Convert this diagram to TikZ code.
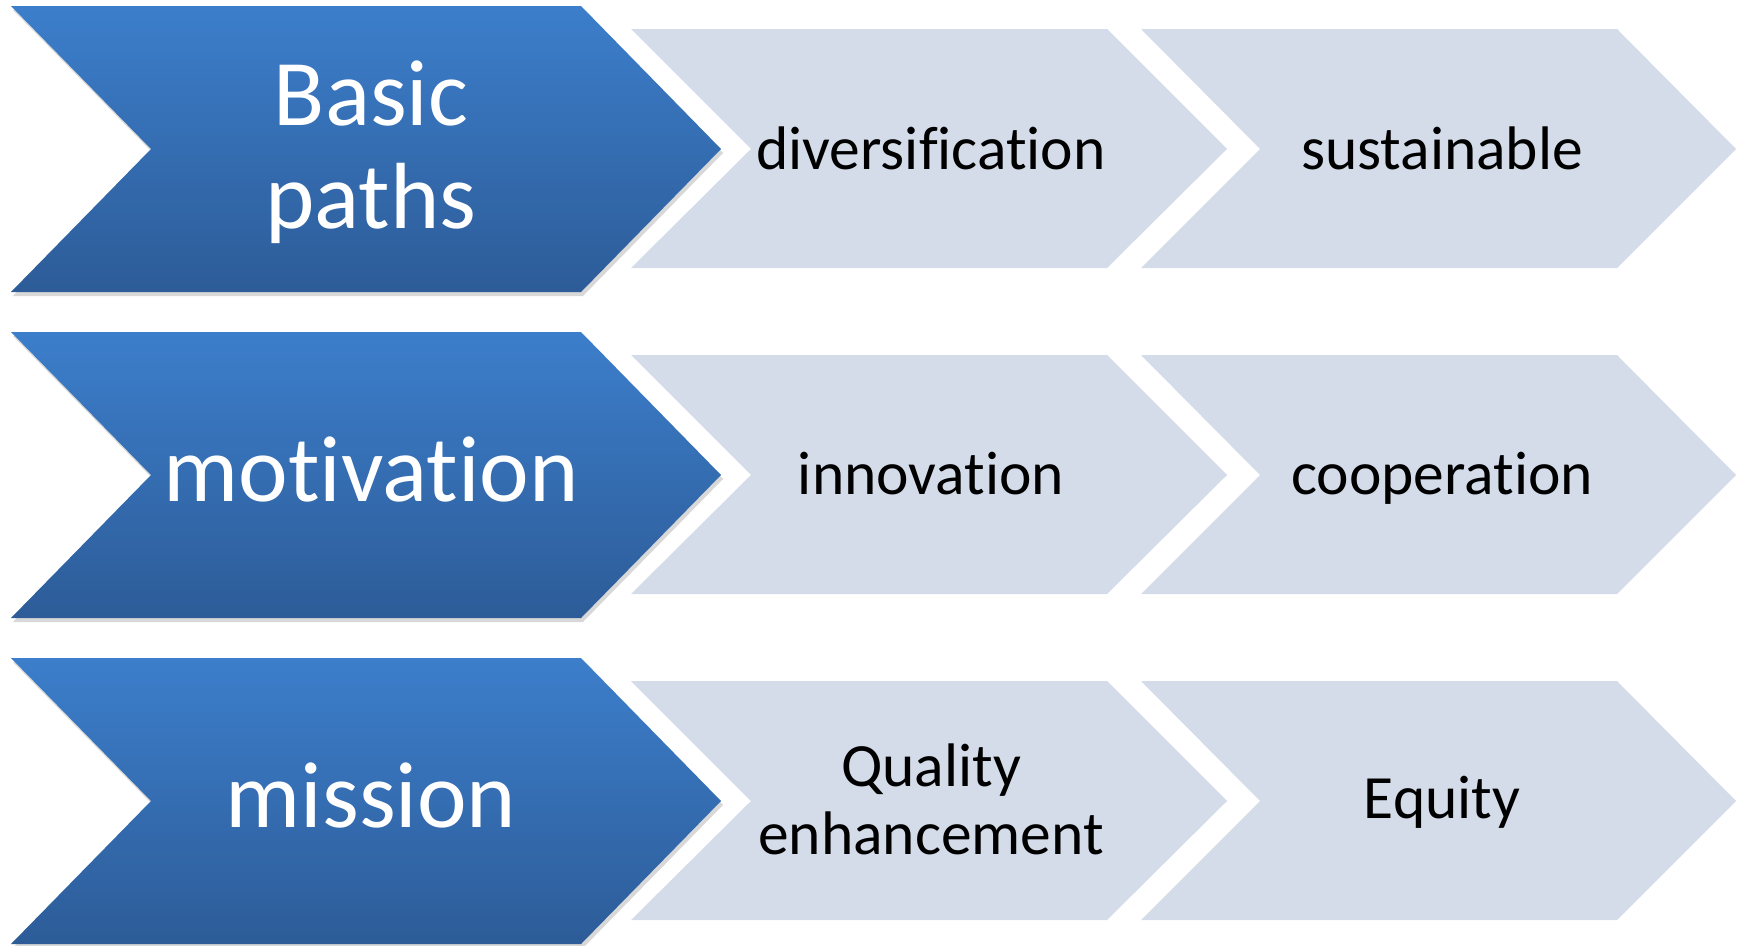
\documentclass[tikz,border=0pt]{standalone}
\usepackage{fontspec}
\setmainfont{Carlito}[Ligatures={NoCommon,NoRequired,NoContextual,NoRare}]
\usetikzlibrary{shadows}
\definecolor{bluetop}{RGB}{60,126,203}
\definecolor{bluebot}{RGB}{45,92,152}
\definecolor{lightfill}{RGB}{212,220,234}
\tikzset{
  bluechev/.style={top color=bluetop,bottom color=bluebot,
    drop shadow={shadow xshift=2pt,shadow yshift=-4pt,opacity=0.22,fill=black!70}},
  lightchev/.style={fill=lightfill},
  bluetext/.style={text=white,align=center,font=\fontsize{94}{103}\selectfont},
  lighttext/.style={text=black,align=center,font=\fontsize{61.5}{68}\selectfont},
}
\begin{document}
\begin{tikzpicture}[x=1pt,y=-1pt]
\useasboundingbox (0,0) rectangle (1745,945);
\foreach \r in {0,1,2}{
  \begin{scope}[yshift=-326*\r pt]
    \path[bluechev] (11,6) -- (581,6) -- (721,149) -- (581,292) -- (11,292) -- (151,149) -- cycle;
    \path[lightchev] (631,29) -- (1107,29) -- (1227,149) -- (1107,268) -- (631,268) -- (751,149) -- cycle;
    \path[lightchev] (1141,29) -- (1617,29) -- (1736,149) -- (1617,268) -- (1141,268) -- (1260,149) -- cycle;
  \end{scope}
}
\node[bluetext] (basic) at (371,152) {Basic\\paths};
\node[bluetext,anchor=base] (motiv) at (371,501) {motivation};
\node[bluetext,anchor=base] (mission) at (371,827) {mission};
\node[lighttext,anchor=base] (divers) at (931,169) {diversification};
\node[lighttext,anchor=base] (sustain) at (1442,169) {sustainable};
\node[lighttext,anchor=base] (innov) at (931,494) {innovation};
\node[lighttext,anchor=base] (coop) at (1442,494) {cooperation};
\node[lighttext] (quality) at (931,799) {Quality\\enhancement};
\node[lighttext,anchor=base] (equity) at (1442,818) {Equity};
\end{tikzpicture}
\end{document}
